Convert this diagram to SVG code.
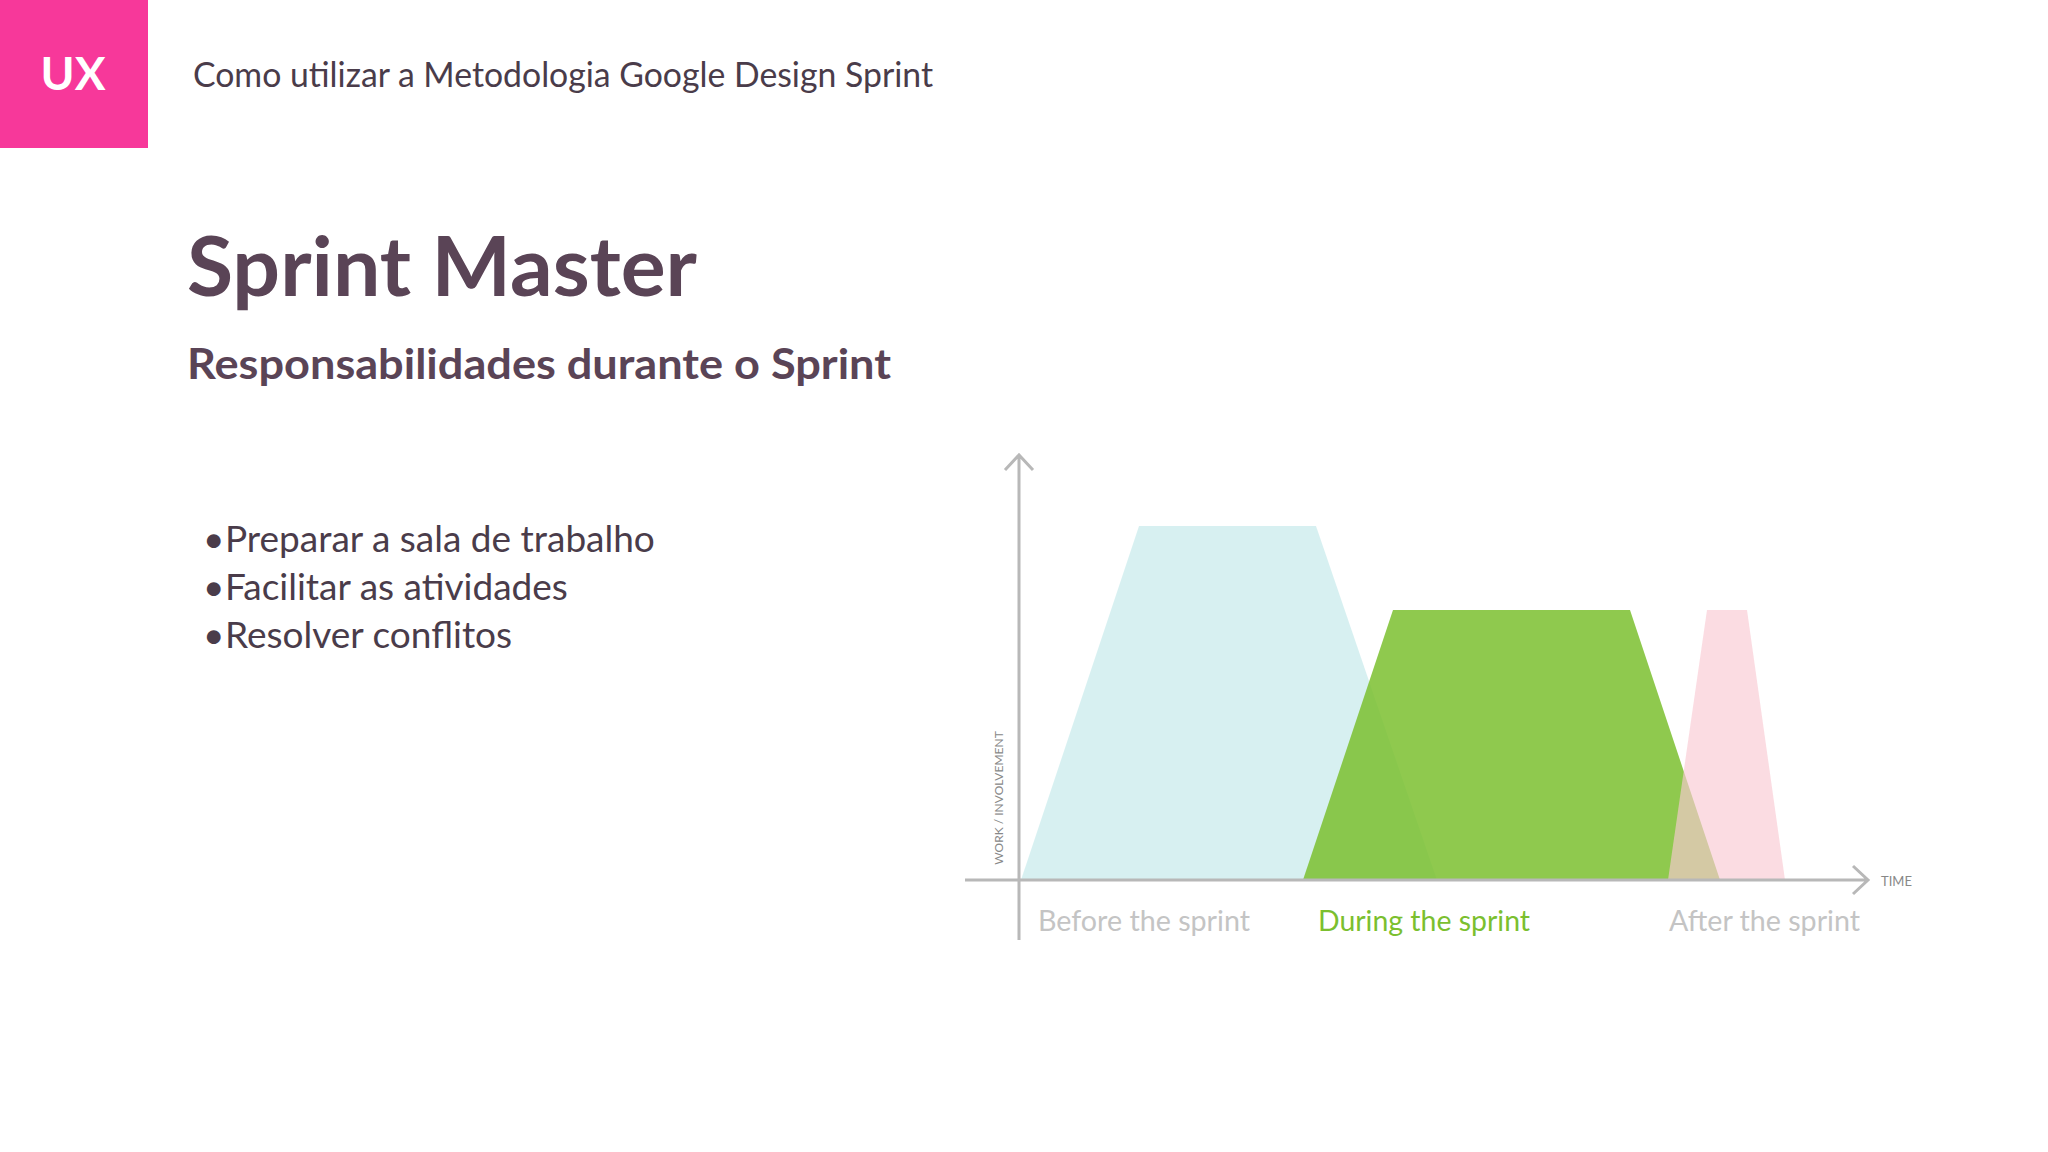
<svg xmlns="http://www.w3.org/2000/svg" width="2048" height="1152" viewBox="0 0 2048 1152">
<style>
text{font-family:"Lato","Noto Sans",sans-serif}
.h{fill:#4a3c4a}
.b{fill:#5a4456;font-weight:bold}
.ax{stroke:#b8b8b8;stroke-width:3;fill:none}
.lb{font-size:28px}
</style>
<rect width="2048" height="1152" fill="#ffffff"/>
<g id="logo"><rect x="0" y="0" width="148" height="148" fill="#f7389a"/>
<text x="73" y="90" font-size="46" font-weight="bold" fill="#fff" text-anchor="middle">UX</text></g>
<text id="header" class="h" x="193" y="87" font-size="34" textLength="740" lengthAdjust="spacingAndGlyphs">Como utilizar a Metodologia Google Design Sprint</text>
<text id="title" class="b" x="187" y="296" font-size="82" textLength="510" lengthAdjust="spacingAndGlyphs">Sprint Master</text>
<text id="subtitle" class="b" x="187" y="379" font-size="42" textLength="704" lengthAdjust="spacingAndGlyphs">Responsabilidades durante o Sprint</text>
<g id="bullets" class="h" font-size="37">
<text x="203" y="552">•</text><text x="225" y="552">Preparar a sala de trabalho</text>
<text x="203" y="600">•</text><text x="225" y="600">Facilitar as atividades</text>
<text x="203" y="648">•</text><text x="225" y="648">Resolver conflitos</text>
</g>
<g id="shapes">
<polygon points="1021,880 1139,526 1316,526 1437,880" fill="#cdecee" opacity="0.8"/>
<polygon points="1303,880 1393,610 1630,610 1720,880" fill="#7bbf2f" opacity="0.85"/>
<polygon points="1668,880 1707,610 1747,610 1785,880" fill="#f9c9d3" opacity="0.65"/>
</g>
<g id="connectors">
<path class="ax" d="M1019,940 V456 M1005,470 L1019,455 L1033,470"/>
<path class="ax" d="M965,880 H1868 M1853,866 L1868,880 L1853,894"/>
</g>
<g id="labels">
<text x="1881" y="886" font-size="13" fill="#888">TIME</text>
<text transform="translate(1003,798) rotate(-90)" font-size="12" fill="#888" text-anchor="middle">WORK / INVOLVEMENT</text>
<text class="lb" x="1038" y="931" fill="#c4c4c4" textLength="212" lengthAdjust="spacingAndGlyphs">Before the sprint</text>
<text class="lb" x="1318" y="931" fill="#7bbf2f" textLength="212" lengthAdjust="spacingAndGlyphs">During the sprint</text>
<text class="lb" x="1669" y="931" fill="#c4c4c4" textLength="191" lengthAdjust="spacingAndGlyphs">After the sprint</text>
</g>
</svg>
